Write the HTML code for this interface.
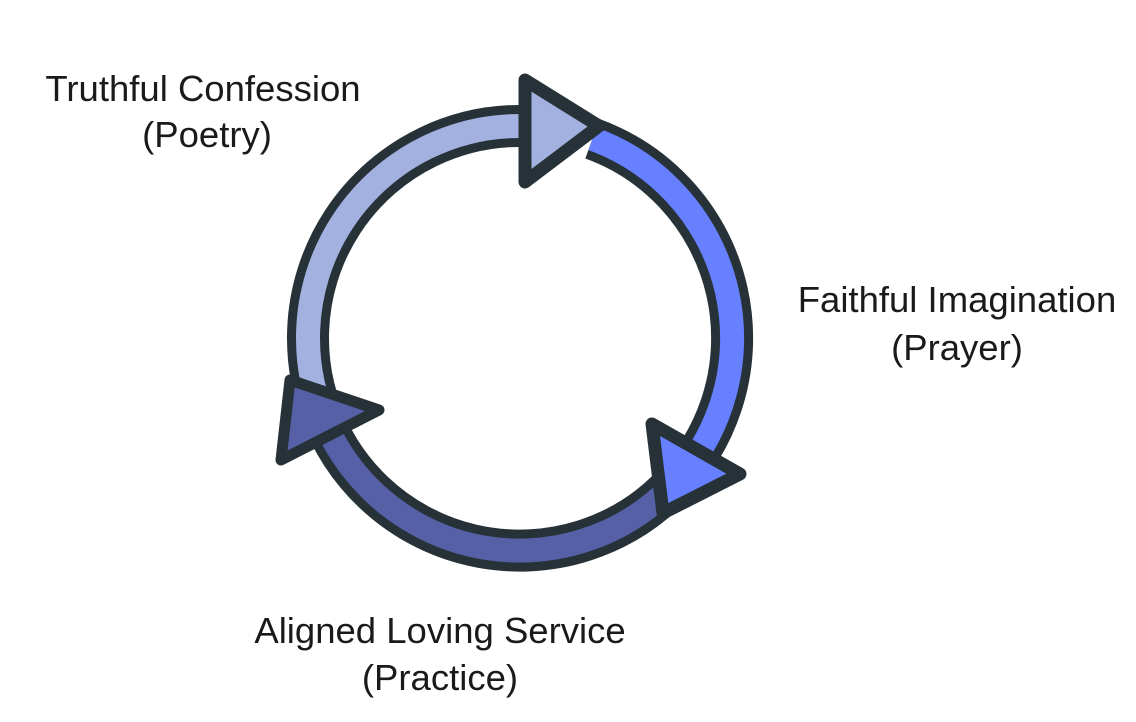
<!DOCTYPE html>
<html><head><style>
html,body{margin:0;padding:0;background:#fff;}
svg{display:block}
text{font-family:"Liberation Sans",sans-serif;font-size:36.5px;fill:#1a1a1a;text-anchor:middle}
</style></head><body>
<svg width="1136" height="722" viewBox="0 0 1136 722">
<g fill="none" stroke-linecap="butt">
  <path d="M 327.9 427.6 A 212 212 0 0 1 525 126" stroke="#263238" stroke-width="42"/>
  <path d="M 327.9 427.6 A 212 212 0 0 1 525 126" stroke="#a3b1e0" stroke-width="24"/>
  <path d="M 592.5 138.8 A 212 212 0 0 1 670 488" stroke="#263238" stroke-width="42"/>
  <path d="M 592.5 138.8 A 212 212 0 0 1 670 488" stroke="#6680ff" stroke-width="24"/>
  <path d="M 668 490 A 212 212 0 0 1 320 410" stroke="#263238" stroke-width="42"/>
  <path d="M 668 490 A 212 212 0 0 1 320 410" stroke="#5560a6" stroke-width="24"/>
</g>
<g stroke="#263238" stroke-width="13" stroke-linejoin="round">
  <polygon points="525,80 599,126 525,182" fill="#a3b1e0"/>
  <polygon points="652,424 740,474 663,513" fill="#6680ff"/>
</g>
<g stroke="#263238" stroke-width="11" stroke-linejoin="round">
  <polygon points="290,380 379,410 281,460" fill="#5560a6"/>
</g>
<text x="203" y="101">Truthful Confession</text>
<text x="207" y="147">(Poetry)</text>
<text x="957" y="312">Faithful Imagination</text>
<text x="957" y="360">(Prayer)</text>
<text x="440" y="643">Aligned Loving Service</text>
<text x="440" y="690">(Practice)</text>
</svg>
</body></html>
